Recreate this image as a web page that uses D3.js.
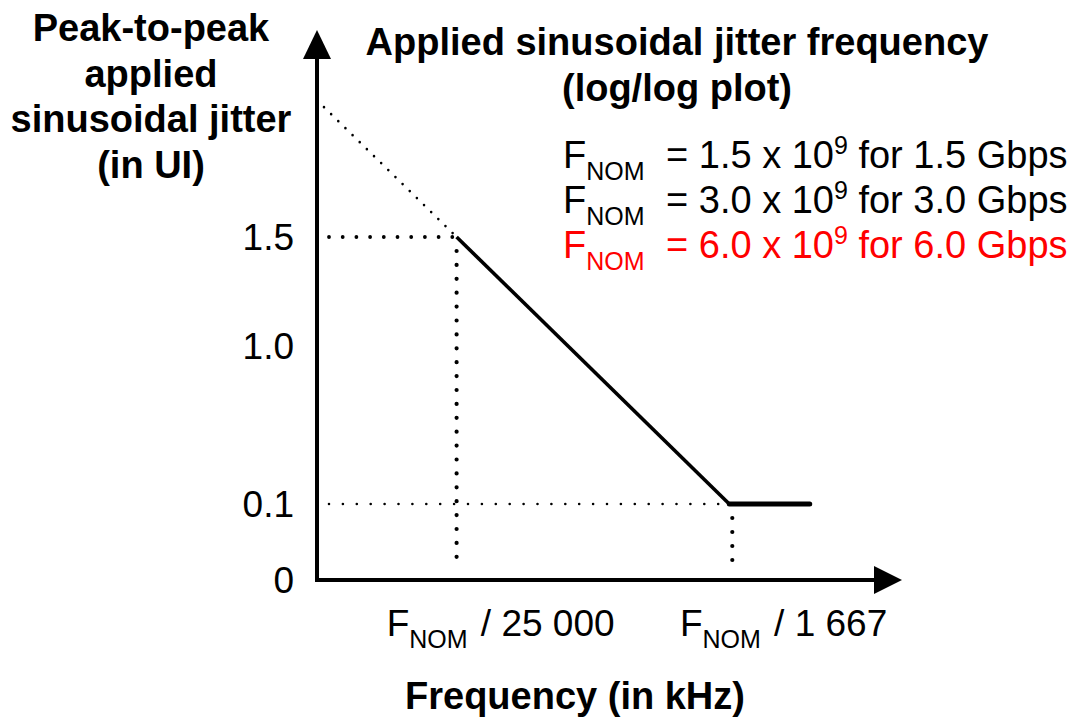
<!DOCTYPE html>
<html><head><meta charset="utf-8">
<script src="https://cdn.jsdelivr.net/npm/d3@7"></script>
<style>body{margin:0;background:#fff} text{font-family:"Liberation Sans",Arial,sans-serif}</style>
</head><body><svg id="c" width="1077" height="721"></svg>
<script>
// ---- data ----
const yTickValues = [0, 0.1, 1.0, 1.5];
const yTickLabels = ["0", "0.1", "1.0", "1.5"];
const xTickDivisors = [25000, 1667];
const xTickLabels = ["25 000", "1 667"];
const curveFreq = [1/25000, 1/1667, 1/750];   // as fraction of F_NOM
const curveJitter = [1.5, 0.1, 0.1];           // UI peak-to-peak
const legendRates = ["1.5", "3.0", "6.0"];
const legendColors = ["#000000", "#000000", "#ff0000"];
const yLabelLines = ["Peak-to-peak", "applied", "sinusoidal jitter", "(in UI)"];
const titleLines = ["Applied sinusoidal jitter frequency", "(log/log plot)"];
const xTitle = "Frequency (in kHz)";

// ---- layout ----
const svg = d3.select("#c");
const x = d3.scaleLog().domain([1/100000, 1/300]).range([317, 902]);
const y = d3.scaleLinear().domain(yTickValues).range([580, 504, 346, 237]);
const x0 = x.range()[0], y0 = y(0);
const yTop = 30;

function dotted(x1, y1, x2, y2, w, gap) {
  svg.append("line").attr("x1", x1).attr("y1", y1).attr("x2", x2).attr("y2", y2)
    .attr("stroke", "#000").attr("stroke-width", w).attr("stroke-linecap", "round")
    .attr("stroke-dasharray", `0,${gap}`);
}
const f1 = curveFreq[0], f2 = curveFreq[1];
// horizontal guides
dotted(x0 + 12, y(curveJitter[0]), x(f1) - 2, y(curveJitter[0]), 3.8, 13.7);
dotted(x0 + 12, y(curveJitter[1]), x(f2) - 2, y(curveJitter[1]), 2.6, 13.9);
// vertical guides
dotted(x(f1), y(curveJitter[0]) + 14, x(f1), y0 - 12, 4.2, 13.9);
dotted(x(f2) + 3, y(curveJitter[1]) + 14, x(f2) + 3, y0 - 12, 4.2, 14);
// extension of the slope back to the y axis
{
  const px1 = x(f1), py1 = y(curveJitter[0]), px2 = x(f2), py2 = y(curveJitter[1]);
  const slope = (py2 - py1) / (px2 - px1);
  const ex = x0 + 2, ey = py1 + slope * (ex - px1);
  dotted(px1 - 4, py1 - 4 * slope, ex, ey, 2.6, 10);
}

// curve
svg.append("path").attr("d", d3.line().x((d, i) => x(curveFreq[i])).y(d => y(d))(curveJitter.slice(0, 2)))
  .attr("fill", "none").attr("stroke", "#000").attr("stroke-width", 3.6);
svg.append("path").attr("d", d3.line().x((d, i) => x(curveFreq[i + 1])).y(d => y(d))(curveJitter.slice(1)))
  .attr("fill", "none").attr("stroke", "#000").attr("stroke-width", 5).attr("stroke-linecap", "round");

// axes
svg.append("line").attr("x1", x0).attr("y1", y0 + 2).attr("x2", x0).attr("y2", yTop + 20)
  .attr("stroke", "#000").attr("stroke-width", 4);
svg.append("line").attr("x1", x0 - 2).attr("y1", y0).attr("x2", x.range()[1] - 20).attr("y2", y0)
  .attr("stroke", "#000").attr("stroke-width", 4);
svg.append("path").attr("d", `M${x0},${yTop} L${x0 - 14},${yTop + 29} L${x0 + 14},${yTop + 29} Z`).attr("fill", "#000");
const xr = x.range()[1];
svg.append("path").attr("d", `M${xr},${y0} L${xr - 28},${y0 - 14} L${xr - 28},${y0 + 14} Z`).attr("fill", "#000");

// y tick labels
svg.selectAll("text.ytick").data(yTickValues).join("text").attr("class", "ytick")
  .attr("x", 294).attr("y", d => y(d) + 13).attr("text-anchor", "end")
  .attr("font-size", 37).attr("fill", "#000").text((d, i) => yTickLabels[i]);

// x tick labels
xTickDivisors.forEach((div, i) => {
  const t = svg.append("text").attr("x", x(1 / div) + 158).attr("y", 636)
    .attr("text-anchor", "end").attr("font-size", 37).attr("fill", "#000");
  t.append("tspan").text("F");
  t.append("tspan").attr("font-size", 25).attr("dy", 12).text("NOM");
  t.append("tspan").attr("dy", -12).attr("dx", 3).text(" / " + xTickLabels[i]);
});

// y label
svg.selectAll("text.ylab").data(yLabelLines).join("text").attr("class", "ylab")
  .attr("x", 151).attr("y", (d, i) => 41 + i * 45.5).attr("text-anchor", "middle")
  .attr("font-size", 38).attr("font-weight", "bold").attr("fill", "#000").text(d => d);

// title
svg.selectAll("text.title").data(titleLines).join("text").attr("class", "title")
  .attr("x", 677).attr("y", (d, i) => 55 + i * 45.5).attr("text-anchor", "middle")
  .attr("font-size", 38).attr("font-weight", "bold").attr("fill", "#000").text(d => d);

// legend
legendRates.forEach((r, i) => {
  const by = 168 + i * 45;
  const t = svg.append("text").attr("x", 563).attr("y", by)
    .attr("font-size", 38).attr("fill", legendColors[i]);
  t.append("tspan").text("F");
  t.append("tspan").attr("font-size", 25).attr("dy", 12).text("NOM");
  t.append("tspan").attr("x", 666).attr("dy", -12).text(`= ${r} x 10`);
  t.append("tspan").attr("font-size", 25).attr("dy", -14).text("9");
  t.append("tspan").attr("dy", 14).text(` for ${r} Gbps`);
});

// x title
svg.append("text").attr("x", 575).attr("y", 709).attr("text-anchor", "middle")
  .attr("font-size", 38).attr("font-weight", "bold").attr("fill", "#000").text(xTitle);
</script>
</body></html>
